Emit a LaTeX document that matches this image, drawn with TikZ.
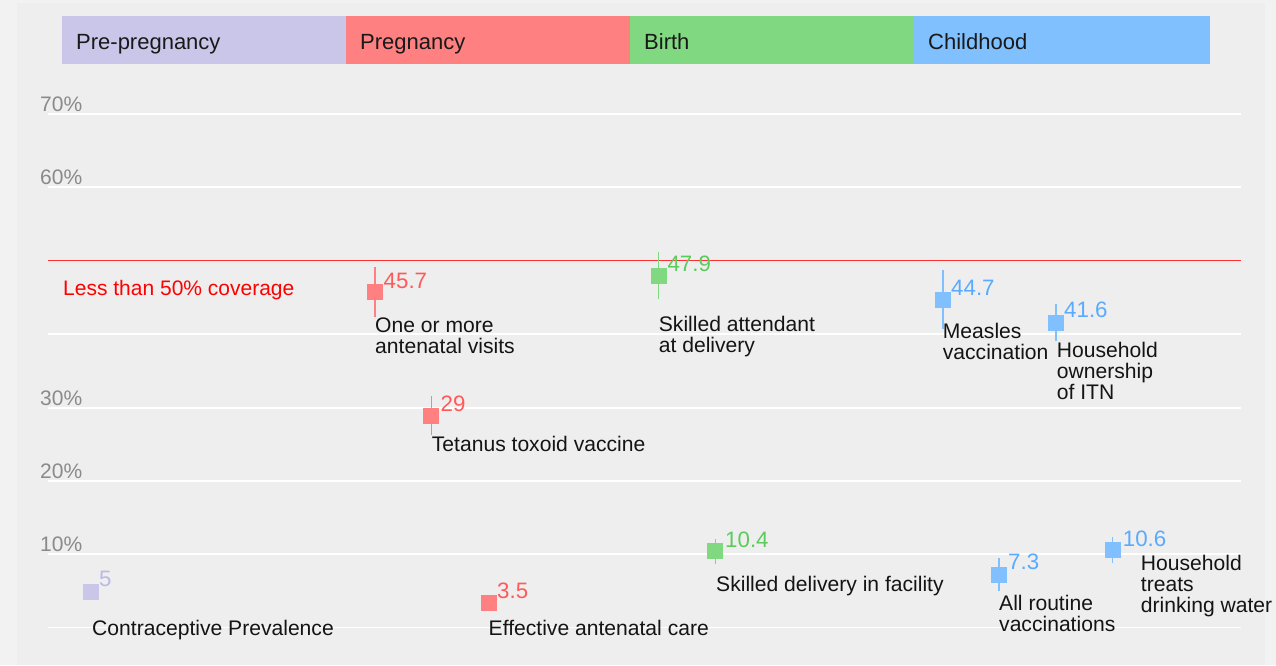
\documentclass[tikz,border=0pt]{standalone}
\usepackage{fontspec}
\setmainfont{Liberation Sans}
\definecolor{lav}{HTML}{C9C6E9}
\definecolor{sal}{HTML}{FF8080}
\definecolor{grn}{HTML}{80D980}
\definecolor{blu}{HTML}{80C0FF}
\definecolor{lavT}{HTML}{BDB8E8}
\definecolor{salT}{HTML}{FF5A5A}
\definecolor{grnT}{HTML}{5CCB5C}
\definecolor{bluT}{HTML}{5AAAFF}
\definecolor{axisT}{HTML}{8A8A8A}
\definecolor{outerbg}{HTML}{F2F2F2}
\definecolor{innerbg}{HTML}{EEEEEE}
\definecolor{redline}{HTML}{FF3030}
\newcommand{\stk}[1]{\vtop{\baselineskip=21pt\lineskiplimit=-10pt\halign{##\hfil\cr#1\crcr}}}
\tikzset{
  band/.style={anchor=north west, minimum height=48pt, inner sep=0pt, draw=none},
  bandlab/.style={anchor=base west, inner sep=0pt, font=\fontsize{22}{22}\selectfont, text=black!90},
  grid/.style={white, line width=1.3pt},
  ax/.style={anchor=base west, inner sep=0pt, font=\fontsize{21}{21}\selectfont, text=axisT},
  sq/.style={rectangle, minimum size=16pt, inner sep=0pt, fill=#1},
  ebar/.style={draw=#1, line width=1.2pt},
  val/.style={anchor=base west, inner sep=0pt, font=\fontsize{22.3}{22.3}\selectfont, text=#1},
  lab/.style={anchor=base west, inner sep=0pt, font=\fontsize{21.1}{21.1}\selectfont, text=black!92}
}
\begin{document}
\begin{tikzpicture}[x=1pt,y=-1pt]
\useasboundingbox (0,0) rectangle (1276,665);
\fill[outerbg] (0,0) rectangle (1276,665);
\fill[innerbg] (17,3) rectangle (1265,665);
% bands
\node[band, fill=lav, minimum width=284pt] (b1) at (62,16) {};
\node[band, fill=sal, minimum width=284pt] (b2) at (346,16) {};
\node[band, fill=grn, minimum width=283pt] (b3) at (630,16) {};
\node[band, fill=blu, minimum width=297pt] (b4) at (913,16) {};
\node[bandlab] (t1) at (76,49) {Pre-pregnancy};
\node[bandlab] (t2) at (360,49) {Pregnancy};
\node[bandlab] (t3) at (644,49) {Birth};
\node[bandlab] (t4) at (928,49) {Childhood};
% grid
\foreach \yy in {114,187,334,408,481,554,627.7} \draw[grid] (48,\yy) -- (1241,\yy);
\draw[redline, line width=1.5pt] (48,260.7) -- (1241,260.7);
\node[ax] (a70) at (40,111) {70\%};
\node[ax] (a60) at (40,184) {60\%};
\node[ax] (a30) at (40,405) {30\%};
\node[ax] (a20) at (40,478) {20\%};
\node[ax] (a10) at (40,551.5) {10\%};
\node[anchor=base west, inner sep=0pt, font=\fontsize{21}{21}\selectfont, text=red] (less) at (63,295) {Less than 50\% coverage};
% error bars
\draw[ebar=sal] (375,267) -- (375,317);
\draw[ebar=sal] (431.3,396) -- (431.3,435);
\draw[ebar=grn] (658.7,252) -- (658.7,299);
\draw[ebar=grn] (715.3,539) -- (715.3,564);
\draw[ebar=blu] (943,270) -- (943,329);
\draw[ebar=blu] (1056,304) -- (1056,341);
\draw[ebar=blu] (999,558) -- (999,591);
\draw[ebar=blu] (1112.7,537) -- (1112.7,563);
% squares
\node[sq=lav] (p1) at (91,592) {};
\node[sq=sal] (p2) at (375,292) {};
\node[sq=sal] (p3) at (431,415.5) {};
\node[sq=sal] (p4) at (488.7,602.7) {};
\node[sq=grn] (p5) at (658.7,276) {};
\node[sq=grn] (p6) at (715,551) {};
\node[sq=blu] (p7) at (943,300) {};
\node[sq=blu] (p8) at (1056,322.7) {};
\node[sq=blu] (p9) at (999,574.5) {};
\node[sq=blu] (p10) at (1113,550) {};
% values
\node[val=lavT] (v1) at (99,586.7) {5};
\node[val=salT] (v2) at (383.5,288) {45.7};
\node[val=salT] (v3) at (440.5,411) {29};
\node[val=salT] (v4) at (497,598) {3.5};
\node[val=grnT] (v5) at (667.3,271) {47.9};
\node[val=grnT] (v6) at (725,547.3) {10.4};
\node[val=bluT] (v7) at (951,295) {44.7};
\node[val=bluT] (v8) at (1064,317) {41.6};
\node[val=bluT] (v9) at (1008,569) {7.3};
\node[val=bluT] (v10) at (1122.7,546) {10.6};
% labels
\node[lab] (l1) at (92,635) {Contraceptive Prevalence};
\node[lab] (l2) at (375,332) {\stk{One or more\cr antenatal visits}};
\node[lab] (l3) at (431.7,451.7) {Tetanus toxoid vaccine};
\node[lab] (l4) at (488.5,635) {Effective antenatal care};
\node[lab] (l5) at (658.7,331.7) {\stk{Skilled attendant\cr at delivery}};
\node[lab] (l6) at (716,591.7) {Skilled delivery in facility};
\node[lab] (l7) at (942.7,338) {\stk{Measles\cr vaccination}};
\node[lab] (l8) at (1056.7,357) {\stk{Household\cr ownership\cr of ITN}};
\node[lab] (l9) at (999,610.7) {\stk{All routine\cr vaccinations}};
\node[lab] (l10) at (1140.7,570.7) {\stk{Household\cr treats\cr drinking water}};
\end{tikzpicture}
\end{document}
